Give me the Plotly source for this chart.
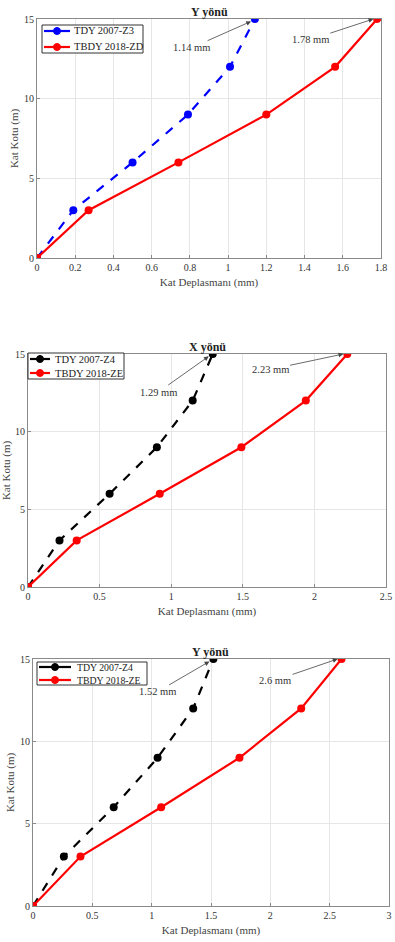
import plotly.graph_objects as go

floors = [0, 3, 6, 9, 12, 15]

# Panel 1 (Y yönü, Z3/ZD)
p1_tdy = [0, 0.19, 0.50, 0.79, 1.01, 1.14]
p1_tbdy = [0, 0.27, 0.74, 1.20, 1.56, 1.78]
# Panel 2 (X yönü, Z4/ZE)
p2_tdy = [0, 0.22, 0.57, 0.90, 1.15, 1.29]
p2_tbdy = [0, 0.34, 0.92, 1.49, 1.94, 2.23]
# Panel 3 (Y yönü, Z4/ZE)
p3_tdy = [0, 0.26, 0.68, 1.05, 1.35, 1.52]
p3_tbdy = [0, 0.40, 1.08, 1.74, 2.26, 2.60]

titles = ["Y yönü", "X yönü", "Y yönü"]
names_tdy = ["TDY 2007-Z3", "TDY 2007-Z4", "TDY 2007-Z4"]
names_tbdy = ["TBDY 2018-ZD", "TBDY 2018-ZE", "TBDY 2018-ZE"]
tdy_colors = ["#0000ff", "#000000", "#000000"]
red = "#ff0000"
xmax = [1.8, 2.5, 3.0]
xdtick = [0.2, 0.5, 0.5]

FONT = "Liberation Serif, Times New Roman, serif"
W, H = 395, 942


def px(x):
    return x / W


def py(y):
    return 1 - y / H


fig = go.Figure()

# plot areas in pixels: (left, right, top, bottom)
boxes = [(37, 381, 19, 258), (28, 386, 354, 587), (33, 389, 659, 906)]
# legend boxes in pixels:
# (left, right, top, bottom, row1_y, row2_y, line_x0, line_x1, text_x, font_size)
legs = [(42, 143, 25, 53, 31, 47, 44, 70, 72, 10.5),
        (28, 124, 353, 379, 359, 373, 30, 50, 53, 10.5),
        (37, 147, 662, 685, 667, 680, 39, 71, 75, 9.8)]

tdys = [p1_tdy, p2_tdy, p3_tdy]
tbdys = [p1_tbdy, p2_tbdy, p3_tbdy]

# annotation text locations in data coords
ann_tdy_text = [(0.81, 13.2), (0.91, 12.55), (1.045, 13.0)]
ann_tbdy_text = [(1.43, 13.7), (1.69, 14.0), (2.04, 13.7)]

for i in range(3):
    xa = "x" if i == 0 else f"x{i+1}"
    ya = "y" if i == 0 else f"y{i+1}"
    fig.add_trace(go.Scatter(
        x=tdys[i], y=floors, mode="lines+markers", name=names_tdy[i],
        line=dict(color=tdy_colors[i], width=2.2, dash="dash"),
        marker=dict(color=tdy_colors[i], size=8),
        xaxis=xa, yaxis=ya, showlegend=False))
    fig.add_trace(go.Scatter(
        x=tbdys[i], y=floors, mode="lines+markers", name=names_tbdy[i],
        line=dict(color=red, width=2.2),
        marker=dict(color=red, size=8),
        xaxis=xa, yaxis=ya, showlegend=False))

    l, r, t, b = boxes[i]
    axis_common = dict(
        showgrid=True, gridcolor="#e6e6e6", gridwidth=1,
        showline=True, linecolor="#8a8a8a", linewidth=1, mirror=True,
        ticks="inside", ticklen=3, tickcolor="#8a8a8a",
        zeroline=False, automargin=False,
        tickfont=dict(family=FONT, size=10, color="#333333"),
    )
    fig.layout[f"xaxis{'' if i == 0 else i+1}"] = dict(
        axis_common, domain=[px(l), px(r)], range=[0, xmax[i]], dtick=xdtick[i],
        anchor=ya,
        title=dict(text="Kat Deplasmanı (mm)", standoff=6,
                   font=dict(family=FONT, size=11, color="#444444")))
    fig.layout[f"yaxis{'' if i == 0 else i+1}"] = dict(
        axis_common, domain=[py(b), py(t)], range=[0, 15], dtick=5,
        anchor=xa,
        title=dict(text="Kat Kotu (m)", standoff=3,
                   font=dict(family=FONT, size=11, color="#444444")))

    # title
    fig.add_annotation(
        x=px((l + r) / 2), y=py(t), xref="paper", yref="paper",
        xanchor="center", yanchor="bottom",
        text=f"<b>{titles[i]}</b>", showarrow=False,
        font=dict(family=FONT, size=12, color="#222222"), yshift=-2)

    # arrows
    fig.add_annotation(
        x=tdys[i][-1] - 0.02 * xmax[i] / 1.8, y=14.85, xref=xa, yref=ya,
        ax=ann_tdy_text[i][0], ay=ann_tdy_text[i][1], axref=xa, ayref=ya,
        text=f"{tdys[i][-1]:g} mm", showarrow=True, arrowhead=2,
        arrowsize=1.2, arrowwidth=0.8, arrowcolor="#444444",
        font=dict(family=FONT, size=10.5, color="#333333"))
    fig.add_annotation(
        x=tbdys[i][-1] - 0.02 * xmax[i] / 1.8, y=15, xref=xa, yref=ya,
        ax=ann_tbdy_text[i][0], ay=ann_tbdy_text[i][1], axref=xa, ayref=ya,
        text=f"{tbdys[i][-1]:g} mm", showarrow=True, arrowhead=2,
        arrowsize=1.2, arrowwidth=0.8, arrowcolor="#444444",
        font=dict(family=FONT, size=10.5, color="#333333"))

    # legend (drawn manually to match compact row spacing)
    ll, lr, lt, lb, r1, r2, lx0, lx1, tx, fs = legs[i]
    fig.add_shape(type="rect", xref="paper", yref="paper",
                  x0=px(ll), x1=px(lr), y0=py(lb), y1=py(lt),
                  line=dict(color="#333333", width=1), fillcolor="white", layer="above")
    for rowy, col, name in [(r1, tdy_colors[i], names_tdy[i]),
                            (r2, red, names_tbdy[i])]:
        fig.add_shape(type="line", xref="paper", yref="paper",
                      x0=px(lx0), x1=px(lx1), y0=py(rowy), y1=py(rowy),
                      line=dict(color=col, width=2.2, dash="solid"), layer="above")
        cx = (lx0 + lx1) / 2
        fig.add_shape(type="circle", xref="paper", yref="paper",
                      xsizemode="pixel", ysizemode="pixel",
                      xanchor=px(cx), yanchor=py(rowy),
                      x0=-3.5, x1=3.5, y0=-3.5, y1=3.5,
                      line=dict(color=col, width=1), fillcolor=col, layer="above")
        fig.add_annotation(x=px(tx), y=py(rowy), xref="paper", yref="paper",
                           xanchor="left", yanchor="middle", showarrow=False,
                           text=name, font=dict(family=FONT, size=fs, color="#222222"))

fig.update_layout(
    width=W, height=H,
    margin=dict(l=0, r=0, t=0, b=0),
    paper_bgcolor="white", plot_bgcolor="white",
    showlegend=False,
)

fig.write_html("out.html", config={"displayModeBar": False},
               post_script="document.body.style.margin='0';document.body.style.overflow='hidden';")
